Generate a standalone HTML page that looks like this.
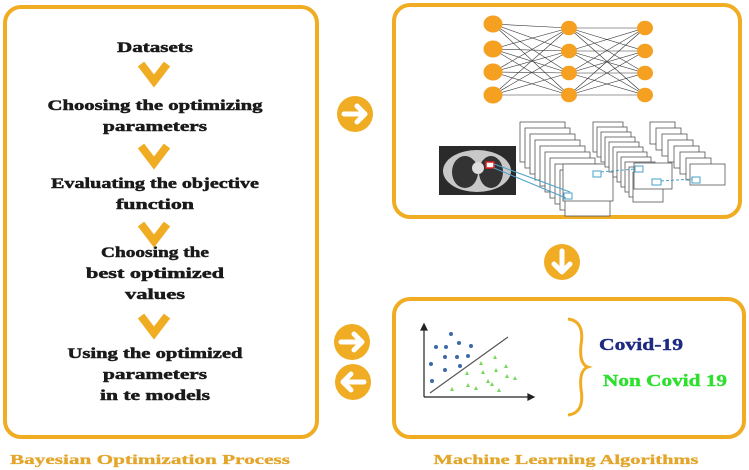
<!DOCTYPE html>
<html><head><meta charset="utf-8"><style>
html,body{margin:0;padding:0;background:#fff;width:749px;height:470px;overflow:hidden}
svg{display:block}
.t{font-family:"Liberation Serif",serif;font-weight:bold;font-size:15px;fill:#1a1a1a;stroke:#1a1a1a;stroke-width:0.5;text-anchor:middle}
.lab{font-family:"Liberation Serif",serif;font-weight:bold;font-size:14px;fill:#e3a52a;stroke:#e3a52a;stroke-width:0.3;text-anchor:middle}
</style></head><body>
<svg id="s" width="749" height="470" viewBox="0 0 749 470" xmlns="http://www.w3.org/2000/svg">
<rect x="5" y="7" width="312" height="430" rx="16" fill="none" stroke="#f0ac22" stroke-width="4"/>
<rect x="394" y="5" width="346" height="212" rx="16" fill="none" stroke="#f0ac22" stroke-width="4"/>
<rect x="394" y="299" width="350" height="138" rx="16" fill="none" stroke="#f0ac22" stroke-width="4"/>

<text class="t" x="155" y="52" textLength="76" lengthAdjust="spacingAndGlyphs">Datasets</text>
<text class="t" x="155" y="110" textLength="215" lengthAdjust="spacingAndGlyphs">Choosing the optimizing</text>
<text class="t" x="155" y="131" textLength="104" lengthAdjust="spacingAndGlyphs">parameters</text>
<text class="t" x="155" y="188" textLength="208" lengthAdjust="spacingAndGlyphs">Evaluating the objective</text>
<text class="t" x="155" y="209" textLength="78" lengthAdjust="spacingAndGlyphs">function</text>
<text class="t" x="155" y="257" textLength="108" lengthAdjust="spacingAndGlyphs">Choosing the</text>
<text class="t" x="155" y="278" textLength="138" lengthAdjust="spacingAndGlyphs">best optimized</text>
<text class="t" x="155" y="299" textLength="60" lengthAdjust="spacingAndGlyphs">values</text>
<text class="t" x="155" y="358" textLength="175" lengthAdjust="spacingAndGlyphs">Using the optimized</text>
<text class="t" x="155" y="379" textLength="104" lengthAdjust="spacingAndGlyphs">parameters</text>
<text class="t" x="155" y="400" textLength="110" lengthAdjust="spacingAndGlyphs">in te models</text>

<g fill="none" stroke="#f0ac22" stroke-width="8" stroke-linejoin="miter">
<polyline points="141,64 154,81 167,64"/>
<polyline points="141,146 154,163 167,146"/>
<polyline points="141,224 154,241 167,224"/>
<polyline points="141,316 154,333 167,316"/>
</g>

<text class="lab" x="150" y="464" textLength="280" lengthAdjust="spacingAndGlyphs">Bayesian Optimization Process</text>
<text class="lab" x="566" y="464" textLength="265" lengthAdjust="spacingAndGlyphs">Machine Learning Algorithms</text>

<g>
<circle cx="355" cy="114" r="18" fill="#f0ac22"/>
<path d="M344 114 H364 M357 106 L365 114 L357 122" stroke="#fff" stroke-width="5" fill="none" stroke-linecap="round" stroke-linejoin="round"/>
<circle cx="562" cy="262" r="18" fill="#f0ac22"/>
<path d="M562 251 V271 M554 264 L562 272 L570 264" stroke="#fff" stroke-width="5" fill="none" stroke-linecap="round" stroke-linejoin="round"/>
<circle cx="352" cy="342" r="18" fill="#f0ac22"/>
<path d="M341 342 H361 M354 334 L362 342 L354 350" stroke="#fff" stroke-width="5" fill="none" stroke-linecap="round" stroke-linejoin="round"/>
<circle cx="353" cy="382" r="18" fill="#f0ac22"/>
<path d="M364 382 H344 M351 374 L343 382 L351 390" stroke="#fff" stroke-width="5" fill="none" stroke-linecap="round" stroke-linejoin="round"/>
</g>

<g id="nn" stroke="#333" stroke-width="0.6"></g>
<g id="nodes" fill="#f5a020"></g>

<rect x="439" y="146" width="77" height="49" fill="#2a2a2a"/>
<ellipse cx="477" cy="171" rx="34" ry="21" fill="#c8c8c8"/>
<ellipse cx="465" cy="172" rx="13" ry="16" fill="#333"/>
<ellipse cx="491" cy="172" rx="12" ry="16" fill="#333"/>
<circle cx="478" cy="168" r="6" fill="#ddd"/>
<rect x="486" y="162" width="8" height="6" fill="#fff" stroke="#e02020" stroke-width="1.5"/>
<g id="stacks" fill="#fff" stroke="#555" stroke-width="0.8"></g>
<g stroke="#4aa0c8" stroke-width="1" fill="none">
<line x1="494" y1="164" x2="570" y2="192"/><line x1="494" y1="168" x2="566" y2="198"/>
<rect x="564" y="193" width="8" height="6"/>
<rect x="593" y="171" width="8" height="6"/><rect x="635" y="166" width="8" height="6"/>
<line x1="601" y1="172" x2="635" y2="169" stroke-dasharray="3,2"/>
<rect x="652" y="179" width="9" height="6"/><rect x="692" y="177" width="8" height="6"/>
<line x1="661" y1="181" x2="692" y2="179" stroke-dasharray="3,2"/>
</g>

<g stroke="#222" stroke-width="1.2" fill="#222">
<line x1="424" y1="397" x2="424" y2="328"/><path d="M421 330 L424 324 L427 330Z"/>
<line x1="424" y1="397" x2="530" y2="397"/><path d="M528 394 L534 397 L528 400Z"/>
<line x1="430" y1="393" x2="508" y2="337" stroke="#555"/>
</g>
<g fill="#3a6aa8" id="blue"></g>
<g fill="#7ad858" id="green"></g>
<path d="M568 319 Q585 321 581 345 Q579 364 588 367 Q579 370 581 389 Q585 413 568 415" fill="none" stroke="#f0ac22" stroke-width="3"/>
<text x="599" y="350" font-family="Liberation Serif,serif" font-weight="bold" font-size="17" fill="#1e2a82" stroke="#1e2a82" stroke-width="0.4" textLength="84" lengthAdjust="spacingAndGlyphs">Covid-19</text>
<text x="603" y="386" font-family="Liberation Serif,serif" font-weight="bold" font-size="17" fill="#2ee02e" stroke="#2ee02e" stroke-width="0.4" textLength="124" lengthAdjust="spacingAndGlyphs">Non Covid 19</text>
</svg>
<script>
var NS="http://www.w3.org/2000/svg";
function el(p,t,a){var e=document.createElementNS(NS,t);for(var k in a)e.setAttribute(k,a[k]);document.getElementById(p).appendChild(e);}
var L=[[493,[24,49,72,95],9.5],[569,[28,51,73,95],8],[645,[28,51,73,95],8]];
for(var l=0;l<2;l++)for(var i=0;i<4;i++)for(var j=0;j<4;j++)el("nn","line",{x1:L[l][0],y1:L[l][1][i],x2:L[l+1][0],y2:L[l+1][1][j]});
L.forEach(function(c){c[1].forEach(function(y){el("nodes","ellipse",{cx:c[0],cy:y,rx:c[2],ry:c[2]*0.9});});});
for(var i=0;i<10;i++)el("stacks","rect",{x:520+i*5,y:122+i*6,width:45,height:40});
el("stacks","rect",{x:563,y:164,width:50,height:37});
for(var i=0;i<11;i++)el("stacks","rect",{x:593+i*4,y:122+i*5,width:30,height:30});
el("stacks","rect",{x:634,y:163,width:38,height:26});
for(var i=0;i<7;i++)el("stacks","rect",{x:650+i*6,y:122+i*6,width:25,height:22});
el("stacks","rect",{x:690,y:164,width:35,height:21});
var B=[[451,334],[436,347],[446,347],[459,343],[471,346],[445,357],[457,357],[468,356],[431,364],[445,370],[460,366],[432,381]];
B.forEach(function(p){el("blue","circle",{cx:p[0],cy:p[1],r:2});});
var G=[[481,363],[495,357],[483,372],[496,370],[506,366],[467,373],[488,381],[507,376],[515,378],[452,389],[468,385],[476,388],[492,384],[499,390]];
G.forEach(function(p){el("green","path",{d:"M"+(p[0]-2)+" "+(p[1]+2)+" L"+p[0]+" "+(p[1]-2)+" L"+(p[0]+2)+" "+(p[1]+2)+"Z"});});
</script>
</body></html>
